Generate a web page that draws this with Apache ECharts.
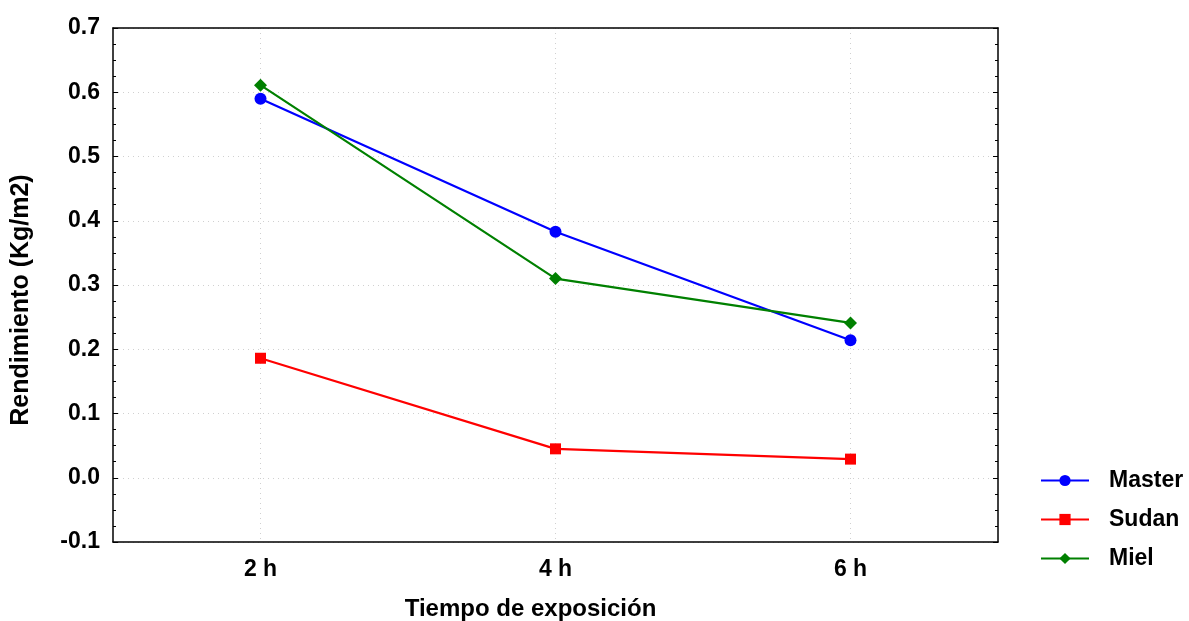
<!DOCTYPE html>
<html>
<head>
<meta charset="utf-8">
<script src="https://cdn.jsdelivr.net/npm/echarts@6/dist/echarts.min.js"></script>
<style>
  html, body { margin: 0; padding: 0; background: #fff; }
  #chart { width: 1189px; height: 621px; }
</style>
</head>
<body>
<div id="chart"></div>
<script>
const categories = ['2 h', '4 h', '6 h'];
const master = [0.59, 0.383, 0.214];
const sudan = [0.186, 0.045, 0.029];
const miel = [0.611, 0.31, 0.241];

const font = '"Liberation Sans", Arial, sans-serif';
const gridDots = { show: true, lineStyle: { color: '#d0d0d0', type: [1, 4], width: 1 } };
const txt = (size) => ({ fontFamily: font, fontWeight: 'bold', fontSize: size, color: '#000' });

const chart = echarts.init(document.getElementById('chart'));
chart.setOption({
  animation: false,
  grid: { left: 113, right: 191, top: 28, bottom: 79, outerBoundsMode: 'none', containLabel: false },
  legend: {
    orient: 'vertical',
    left: 1035,
    top: 464,
    itemWidth: 48,
    itemHeight: 14,
    itemGap: 16,
    textStyle: Object.assign(txt(23), { padding: [0, 0, 0, 15] }),
    data: ['Master', 'Sudan', 'Miel']
  },
  xAxis: [{
    type: 'category',
    data: categories,
    name: 'Tiempo de exposición',
    nameLocation: 'middle',
    nameGap: 55,
    nameTextStyle: Object.assign(txt(24), { padding: [0, 50, 0, 0] }),
    axisLine: { onZero: false, lineStyle: { color: '#000', width: 1.5 } },
    axisTick: { inside: true, alignWithLabel: true, length: 5, lineStyle: { color: '#000' } },
    axisLabel: Object.assign(txt(23), { margin: 16 }),
    splitLine: Object.assign({ alignWithLabel: true }, gridDots)
  }, {
    type: 'category',
    data: categories,
    position: 'top',
    axisLine: { onZero: false, lineStyle: { color: '#000', width: 1.5 } },
    axisTick: { inside: true, alignWithLabel: true, length: 5, lineStyle: { color: '#000' } },
    axisLabel: { show: false },
    splitLine: { show: false }
  }],
  yAxis: [{
    type: 'value',
    min: -0.1,
    max: 0.7,
    interval: 0.1,
    name: 'Rendimiento (Kg/m2)',
    nameLocation: 'middle',
    nameGap: 79,
    nameTextStyle: Object.assign(txt(25), { padding: [0, 30, 0, 0] }),
    axisLine: { show: true, onZero: false, lineStyle: { color: '#000', width: 1.5 } },
    axisTick: { show: true, inside: true, length: 5, lineStyle: { color: '#000' } },
    minorTick: { show: true, splitNumber: 4, length: 3, lineStyle: { color: '#000' } },
    axisLabel: Object.assign(txt(23), { margin: 13, formatter: v => v.toFixed(1) }),
    splitLine: gridDots
  }, {
    type: 'value',
    min: -0.1,
    max: 0.7,
    interval: 0.1,
    position: 'right',
    axisLine: { show: true, onZero: false, lineStyle: { color: '#000', width: 1.5 } },
    axisTick: { show: true, inside: true, length: 5, lineStyle: { color: '#000' } },
    minorTick: { show: true, splitNumber: 4, length: 3, lineStyle: { color: '#000' } },
    axisLabel: { show: false },
    splitLine: { show: false }
  }],
  series: [{
    name: 'Master', type: 'line', data: master,
    symbol: 'circle', symbolSize: 12,
    itemStyle: { color: '#0000ff' }, lineStyle: { color: '#0000ff', width: 2.2 }
  }, {
    name: 'Sudan', type: 'line', data: sudan,
    symbol: 'rect', symbolSize: 11,
    itemStyle: { color: '#ff0000' }, lineStyle: { color: '#ff0000', width: 2.2 }
  }, {
    name: 'Miel', type: 'line', data: miel,
    symbol: 'diamond', symbolSize: 13,
    itemStyle: { color: '#008000' }, lineStyle: { color: '#008000', width: 2.2 }
  }]
});
</script>
</body>
</html>
